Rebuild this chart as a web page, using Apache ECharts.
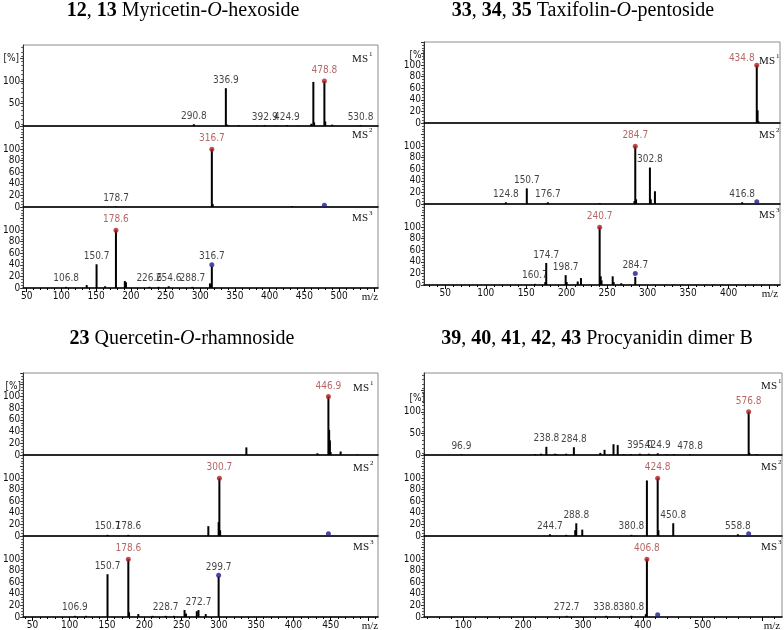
<!DOCTYPE html>
<html><head><meta charset="utf-8">
<script src="https://cdn.jsdelivr.net/npm/echarts@6/dist/echarts.min.js"></script>
<style>html,body{margin:0;padding:0;background:#fff}#c{width:784px;height:630px}</style>
</head><body><div id="c"></div>
<script>
// ---------------- DATA ----------------
// Titles
const titleNums = [['12','13'], ['33','34','35'], ['23'], ['39','40','41','42','43']];
const titleNames = [['Myricetin-','O','-hexoside'], ['Taxifolin-','O','-pentoside'], ['Quercetin-','O','-rhamnoside'], ['Procyanidin dimer B','','']];

// Tick labels
const xTicks1 = [50,100,150,200,250,300,350,400,450,500,550];
const xLabels1 = [50,100,150,200,250,300,350,400,450,500];
const xTicks2 = [50,100,150,200,250,300,350,400,450];
const xLabels2 = [50,100,150,200,250,300,350,400];
const xTicks3 = [50,100,150,200,250,300,350,400,450,500];
const xLabels3 = [50,100,150,200,250,300,350,400,450];
const xTicks4 = [100,200,300,400,500,600];
const xLabels4 = [100,200,300,400,500];
const yTicks50 = [0,50,100,150];
const yLabels50 = [0,50,100];
const yLabels20 = [0,20,40,60,80,100];

// Panel 1: Myricetin-O-hexoside  [m/z, intensity %]
const p1ms1Peaks = [[290.8,4],[336.9,84],[339,3],[355,2],[381,1],[392.9,2],[410,1],[424.9,2],[441,1],[460,5],[462.9,98],[464,8],[478.8,100],[480,10],[490,3],[530.8,2]];
const p1ms1Labels = [[290.8,4],[336.9,84],[392.9,2],[424.9,2],[530.8,2]];
const p1ms1Base = [[478.8,100]];
const p1ms1Prec = [];
const p1ms2Peaks = [[178.7,1],[316.7,100],[318,5],[432,1.5]];
const p1ms2Labels = [[178.7,1]];
const p1ms2Base = [[316.7,100]];
const p1ms2Prec = [[478.8,3]];
const p1ms3Peaks = [[106.8,2],[136.5,5],[150.7,41],[163,3],[178.6,100],[191.4,12],[193,10],[226.6,2],[240,2],[254.6,3],[288.7,2],[314,8],[316.7,37]];
const p1ms3Labels = [[106.8,2],[150.7,41],[226.6,2],[254.6,3],[288.7,2],[316.7,40]];
const p1ms3Base = [[178.6,100]];
const p1ms3Prec = [[316.7,40]];

// Panel 2: Taxifolin-O-pentoside
const p2ms1Peaks = [[434.8,100],[435.8,22],[436.8,3]];
const p2ms1Labels = [];
const p2ms1Base = [[434.8,100]];
const p2ms1Prec = [];
const p2ms2Peaks = [[124.8,3],[150.7,27],[176.7,3],[241,1.5],[283.7,5],[284.7,100],[285.7,8],[302.8,63],[303.8,8],[309,22],[416.8,3]];
const p2ms2Labels = [[124.8,3],[150.7,27],[176.7,3],[302.8,63],[416.8,3]];
const p2ms2Base = [[284.7,100]];
const p2ms2Prec = [[434.8,4]];
const p2ms3Peaks = [[160.7,2],[173.5,5],[174.7,38],[198.7,17],[200,5],[213.6,6],[217.6,12],[240.7,100],[242,15],[243,8],[256.8,15],[258,5],[267.4,3],[284.7,14]];
const p2ms3Labels = [[160.7,2],[174.7,38],[198.7,17],[284.7,20]];
const p2ms3Base = [[240.7,100]];
const p2ms3Prec = [[284.7,20]];

// Panel 3: Quercetin-O-rhamnoside
const p3ms1Peaks = [[336.9,13],[432.2,3],[446.9,100],[447.9,43],[448.9,25],[449.9,5],[463.3,6],[485,1]];
const p3ms1Labels = [];
const p3ms1Base = [[446.9,100]];
const p3ms1Prec = [];
const p3ms2Peaks = [[150.7,2],[178.6,2],[285.9,17],[299.7,24],[300.7,100],[301.7,10]];
const p3ms2Labels = [[150.7,2],[178.6,2]];
const p3ms2Base = [[300.7,100]];
const p3ms2Prec = [[446.9,4]];
const p3ms3Peaks = [[106.9,2],[122,2],[150.7,74],[178.6,100],[179.6,8],[192,5],[211,2],[228.7,2],[240,2],[254,12],[256,6],[270.4,10],[272.7,12],[282.4,5],[299.7,70]];
const p3ms3Labels = [[106.9,2],[150.7,74],[228.7,2],[272.7,12],[299.7,72]];
const p3ms3Base = [[178.6,100]];
const p3ms3Prec = [[299.7,72]];

// Panel 4: Procyanidin dimer B
const p4ms1Peaks = [[96.9,2],[220,2],[230,3],[238.8,19],[253,3],[256,2],[272,3],[284.8,18],[329,5],[336,12],[351,25],[358,23],[368,2],[380,2],[395,3],[410,3],[424.9,4],[440,2],[452,2],[478.8,2],[576.8,100],[578,5],[590,2]];
const p4ms1Labels = [[96.9,2],[238.8,19],[284.8,18],[395.0,3],[424.9,4],[478.8,2]];
const p4ms1Base = [[576.8,100]];
const p4ms1Prec = [];
const p4ms2Peaks = [[244.7,3],[272,2],[287,10],[288.8,22],[298.8,11],[380.8,2],[406.8,96],[424.8,100],[426,10],[450.8,22],[558.8,3]];
const p4ms2Labels = [[244.7,3],[288.8,22],[380.8,2],[450.8,22],[558.8,3]];
const p4ms2Base = [[424.8,100]];
const p4ms2Prec = [[576.8,4]];
const p4ms3Peaks = [[272.7,2],[338.8,2],[380.8,2],[405,5],[406.8,100]];
const p4ms3Labels = [[272.7,2],[338.8,2],[380.8,2]];
const p4ms3Base = [[406.8,100]];
const p4ms3Prec = [[424.8,4]];

// ---------------- LAYOUT / STYLE ----------------
const SANS = "'Liberation Sans Narrow','DejaVu Sans Condensed','Liberation Sans',sans-serif";
const SERIF = "'Liberation Serif','DejaVu Serif',serif";
const RED_TXT = '#a3403f', RED_DOT = '#b01e1e', BLUE_DOT = '#1c1c8c';

const panels = [
  {left:18, right:378, ys:[45,126,207,288], xMin:45, xMax:556, xTicks:xTicks1, xLabels:xLabels1, minorStep:10,
   titleX:183, titleY:11, pctDy:13, mzX:370, msRight:10, msDy:[14,9,11], baseOffset:[[0,0],[0,0],[0,0]],
   subs:[[p1ms1Peaks,p1ms1Labels,p1ms1Base,p1ms1Prec,180],[p1ms2Peaks,p1ms2Labels,p1ms2Base,p1ms2Prec,140],[p1ms3Peaks,p1ms3Labels,p1ms3Base,p1ms3Prec,140]]},
  {left:424, right:780, ys:[42,123,204,285], xMin:23.7, xMax:463.5, xTicks:xTicks2, xLabels:xLabels2, minorStep:10,
   titleX:583, titleY:11, pctDy:13, mzX:770, msRight:5, msDy:[19,12,11], baseOffset:[[-15,4],[0,0],[0,0]],
   subs:[[p2ms1Peaks,p2ms1Labels,p2ms1Base,p2ms1Prec,140],[p2ms2Peaks,p2ms2Labels,p2ms2Base,p2ms2Prec,140],[p2ms3Peaks,p2ms3Labels,p2ms3Base,p2ms3Prec,140]]},
  {left:20, right:378, ys:[373,455,536,617], xMin:37.6, xMax:513.4, xTicks:xTicks3, xLabels:xLabels3, minorStep:10,
   titleX:182, titleY:339, pctDy:13, mzX:370, msRight:9, msDy:[15,13,11], baseOffset:[[0,0],[0,0],[0,0]],
   subs:[[p3ms1Peaks,p3ms1Labels,p3ms1Base,p3ms1Prec,140],[p3ms2Peaks,p3ms2Labels,p3ms2Base,p3ms2Prec,140],[p3ms3Peaks,p3ms3Labels,p3ms3Base,p3ms3Prec,140]]},
  {left:424, right:782, ys:[373,455,536,617], xMin:34.4, xMax:632.5, xTicks:xTicks4, xLabels:xLabels4, minorStep:20,
   titleX:597, titleY:339, pctDy:25, mzX:772, msRight:5, msDy:[13,12,11], baseOffset:[[0,0],[0,0],[0,0]],
   subs:[[p4ms1Peaks,p4ms1Labels,p4ms1Base,p4ms1Prec,190],[p4ms2Peaks,p4ms2Labels,p4ms2Base,p4ms2Prec,140],[p4ms3Peaks,p4ms3Labels,p4ms3Base,p4ms3Prec,140]]}
];

const option = {animation:false, grid:[], xAxis:[], yAxis:[], series:[], graphic:[]};
const fmt = p => p.value[0].toFixed(1);

panels.forEach((P, pi) => {
  // title
  const nums = titleNums[pi].map(n => '{bd|' + n + '}').join('{rg|, }');
  const nm = titleNames[pi];
  let t = nums + '{rg| ' + nm[0] + '}';
  if (nm[1]) t += '{it|' + nm[1] + '}';
  if (nm[2]) t += '{rg|' + nm[2] + '}';
  option.graphic.push({type:'text', x:P.titleX, y:P.titleY, silent:true,
    style:{text:t, fontFamily:SERIF, fontSize:20, fill:'#000',
      align:'center', verticalAlign:'middle', textAlign:'center', textVerticalAlign:'middle',
      rich:{
        bd:{fontFamily:SERIF, fontSize:20, fontWeight:'bold', fill:'#000'},
        rg:{fontFamily:SERIF, fontSize:20, fontWeight:'normal', fill:'#000'},
        it:{fontFamily:SERIF, fontSize:20, fontStyle:'italic', fill:'#000'}
      }}});
  // [%]
  option.graphic.push({type:'text', x:P.left+1, y:P.ys[0]+P.pctDy, silent:true,
    style:{text:'[%]', font:'10px '+SANS, fill:'#111', align:'right', verticalAlign:'middle', textAlign:'right', textVerticalAlign:'middle'}});
  // m/z
  option.graphic.push({type:'text', x:P.mzX, y:P.ys[3]+9, silent:true,
    style:{text:'m/z', font:'11px '+SERIF, fill:'#111', align:'center', verticalAlign:'middle', textAlign:'center', textVerticalAlign:'middle'}});

  const minors = [];
  for (let v = Math.ceil(P.xMin/P.minorStep)*P.minorStep; v <= P.xMax; v += P.minorStep) minors.push(v);

  P.subs.forEach((S, si) => {
    const [peaks, labels, basePk, prec, yMax] = S;
    const g = option.grid.length;
    const top = P.ys[si], bottom = P.ys[si+1];
    const isBottom = si === 2;
    option.grid.push({left:P.left, top:top, width:P.right-P.left, height:bottom-top, show:true,
      borderColor:'#8c8c8c', borderWidth:1, backgroundColor:'transparent'});
    option.xAxis.push({type:'value', gridIndex:g, min:P.xMin, max:P.xMax, position:'bottom',
      axisLine:{show:true, onZero:false, lineStyle:{color:'#000', width:1.6}},
      axisTick: isBottom ? {show:true, customValues:P.xTicks, length:4, inside:false, lineStyle:{color:'#000'}} : {show:false},
      axisLabel: isBottom ? {show:true, customValues:P.xLabels, fontSize:10, margin:3, color:'#111', fontFamily:SANS} : {show:false},
      splitLine:{show:false}});
    option.xAxis.push({type:'value', gridIndex:g, min:P.xMin, max:P.xMax, position:'bottom',
      axisLine:{show:false},
      axisTick: isBottom ? {show:true, customValues:minors, length:2, inside:false, lineStyle:{color:'#000'}} : {show:false},
      axisLabel:{show:false}, splitLine:{show:false}});
    const fifty = yMax > 150;
    option.yAxis.push({type:'value', gridIndex:g, min:0, max:yMax, interval: fifty ? 10 : 20,
      axisLine:{show:true, lineStyle:{color:'#333', width:1}},
      axisTick: fifty ? {show:true, customValues:yTicks50, length:3, lineStyle:{color:'#333'}} : {show:true, length:3, lineStyle:{color:'#333'}},
      minorTick:{show:true, splitNumber: fifty ? 2 : 4, length:2, lineStyle:{color:'#555'}},
      axisLabel:{show:true, customValues: fifty ? yLabels50 : yLabels20, fontSize:10, margin:3, color:'#111', fontFamily:SANS},
      splitLine:{show:false}, minorSplitLine:{show:false}});
    const xi = 2*g;
    option.series.push({type:'bar', xAxisIndex:xi, yAxisIndex:g, data:peaks, barWidth:2, silent:true,
      itemStyle:{color:'#000'}, z:2});
    option.series.push({type:'scatter', xAxisIndex:xi, yAxisIndex:g, data:labels, symbolSize:0.1, silent:true,
      itemStyle:{color:'rgba(0,0,0,0)'}, z:4,
      label:{show:true, position:'top', distance:3, formatter:fmt, fontSize:10, color:'#111', fontFamily:SANS}});
    option.series.push({type:'scatter', xAxisIndex:xi, yAxisIndex:g, data:basePk, symbol:'circle', symbolSize:5, silent:true,
      itemStyle:{color:RED_DOT}, z:5,
      label:{show:true, position:'top', distance:3, offset:P.baseOffset[si], formatter:fmt, fontSize:10, color:RED_TXT, fontFamily:SANS}});
    option.series.push({type:'scatter', xAxisIndex:xi, yAxisIndex:g, data:prec, symbol:'circle', symbolSize:5, silent:true,
      itemStyle:{color:BLUE_DOT}, z:5});
    // MS^n label
    const mx = P.right - P.msRight, my = top + P.msDy[si];
    option.graphic.push({type:'text', x:mx, y:my, silent:true,
      style:{text:'MS', font:'11px '+SERIF, fill:'#111', align:'right', verticalAlign:'middle', textAlign:'right', textVerticalAlign:'middle'}});
    option.graphic.push({type:'text', x:mx+1, y:my-5, silent:true,
      style:{text:String(si+1), font:'7px '+SERIF, fill:'#111', align:'left', verticalAlign:'middle', textAlign:'left', textVerticalAlign:'middle'}});
  });
});

const chart = echarts.init(document.getElementById('c'), null, {renderer:'canvas'});
chart.setOption(option);
</script>
</body></html>
